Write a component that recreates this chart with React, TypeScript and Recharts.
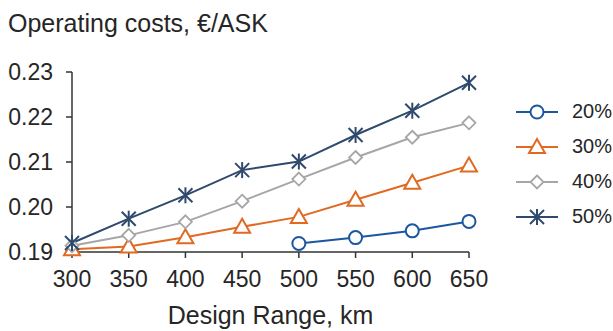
import React from 'react';
import { LineChart, Line, XAxis, YAxis } from 'recharts';

const ranges = [300, 350, 400, 450, 500, 550, 600, 650];
const cost20 = [null, null, null, null, 0.1919, 0.1932, 0.1947, 0.1968];
const cost30 = [0.1906, 0.1912, 0.1933, 0.1956, 0.1978, 0.2016, 0.2054, 0.2092];
const cost40 = [0.1914, 0.1937, 0.1967, 0.2013, 0.2062, 0.211, 0.2155, 0.2187];
const cost50 = [0.192, 0.1974, 0.2026, 0.2082, 0.2101, 0.216, 0.2214, 0.2276];

const yTicks = [0.19, 0.2, 0.21, 0.22, 0.23];
const seriesNames = ['20%', '30%', '40%', '50%'];

const COLORS = {
  c20: '#1B57A0',
  c30: '#E06A22',
  c40: '#A6A6A6',
  c50: '#2F4A6D',
};

const FONT = '"Liberation Sans", Arial, sans-serif';
const TEXT = '#262626';
const AXIS = '#333333';

const data = ranges.map((range, i) => ({
  range,
  c20: cost20[i],
  c30: cost30[i],
  c40: cost40[i],
  c50: cost50[i],
}));

type Shape = 'circle' | 'triangle' | 'diamond' | 'star';

function Marker({ shape, cx, cy, color }: { shape: Shape; cx: number; cy: number; color: string }) {
  if (cx == null || cy == null || isNaN(cx) || isNaN(cy)) return null;
  if (shape === 'circle') {
    return <circle cx={cx} cy={cy} r={6.5} fill="#fff" stroke={color} strokeWidth={2} />;
  }
  if (shape === 'triangle') {
    const pts = `${cx},${cy - 8} ${cx + 8},${cy + 6} ${cx - 8},${cy + 6}`;
    return <polygon points={pts} fill="#fff" stroke={color} strokeWidth={2} />;
  }
  if (shape === 'diamond') {
    const pts = `${cx},${cy - 6.5} ${cx + 6.5},${cy} ${cx},${cy + 6.5} ${cx - 6.5},${cy}`;
    return <polygon points={pts} fill="#fff" stroke={color} strokeWidth={1.8} />;
  }
  const d = 7;
  return (
    <g stroke={color} strokeWidth={2}>
      <line x1={cx} y1={cy - d - 1} x2={cx} y2={cy + d + 1} />
      <line x1={cx - d} y1={cy - d} x2={cx + d} y2={cy + d} />
      <line x1={cx - d} y1={cy + d} x2={cx + d} y2={cy - d} />
    </g>
  );
}

const series: { key: string; name: string; shape: Shape; color: string }[] = [
  { key: 'c20', name: seriesNames[0], shape: 'circle', color: COLORS.c20 },
  { key: 'c30', name: seriesNames[1], shape: 'triangle', color: COLORS.c30 },
  { key: 'c40', name: seriesNames[2], shape: 'diamond', color: COLORS.c40 },
  { key: 'c50', name: seriesNames[3], shape: 'star', color: COLORS.c50 },
];

function LegendBox() {
  return (
    <div style={{ position: 'absolute', left: 514, top: 94 }}>
      {series.map((s) => (
        <div key={s.key} style={{ display: 'flex', alignItems: 'center', height: 35 }}>
          <svg width={46} height={24}>
            <line x1={2} y1={12} x2={44} y2={12} stroke={s.color} strokeWidth={2} />
            <Marker shape={s.shape} cx={23} cy={12} color={s.color} />
          </svg>
          <span style={{ marginLeft: 12, fontSize: 20, color: TEXT, fontFamily: FONT }}>{s.name}</span>
        </div>
      ))}
    </div>
  );
}

export default function App() {
  return (
    <div
      style={{
        position: 'absolute',
        left: 0,
        top: 0,
        width: 613,
        height: 331,
        background: '#fff',
        fontFamily: FONT,
      }}
    >
      <div style={{ position: 'absolute', left: 8, top: 9, fontSize: 25, color: TEXT, whiteSpace: 'nowrap' }}>
        Operating costs, €/ASK
      </div>
      <LineChart
        width={613}
        height={331}
        data={data}
        margin={{ top: 72, right: 144, bottom: 0, left: 0 }}
      >
        <XAxis
          dataKey="range"
          type="number"
          domain={[300, 650]}
          ticks={ranges}
          height={79}
          tickSize={6}
          tickMargin={13}
          axisLine={{ stroke: AXIS, strokeWidth: 1.5 }}
          tickLine={{ stroke: AXIS, strokeWidth: 1.5 }}
          tick={{ fill: TEXT, fontSize: 23, fontFamily: FONT }}
        />
        <YAxis
          type="number"
          domain={[0.19, 0.23]}
          ticks={yTicks}
          width={72}
          tickSize={6}
          tickMargin={13}
          tickFormatter={(v: number) => v.toFixed(2)}
          axisLine={{ stroke: AXIS, strokeWidth: 1.5 }}
          tickLine={{ stroke: AXIS, strokeWidth: 1.5 }}
          tick={{ fill: TEXT, fontSize: 23, fontFamily: FONT }}
        />
        {series.map((s) => (
          <Line
            key={s.key}
            dataKey={s.key}
            name={s.name}
            stroke={s.color}
            strokeWidth={2}
            connectNulls={false}
            isAnimationActive={false}
            dot={(p: any) => <Marker key={`${s.key}-${p.index}`} shape={s.shape} cx={p.cx} cy={p.cy} color={s.color} />}
            activeDot={false}
          />
        ))}
      </LineChart>
      <div
        style={{
          position: 'absolute',
          left: 72,
          width: 397,
          top: 301,
          textAlign: 'center',
          fontSize: 25,
          color: TEXT,
          whiteSpace: 'nowrap',
        }}
      >
        Design Range, km
      </div>
      <LegendBox />
    </div>
  );
}
